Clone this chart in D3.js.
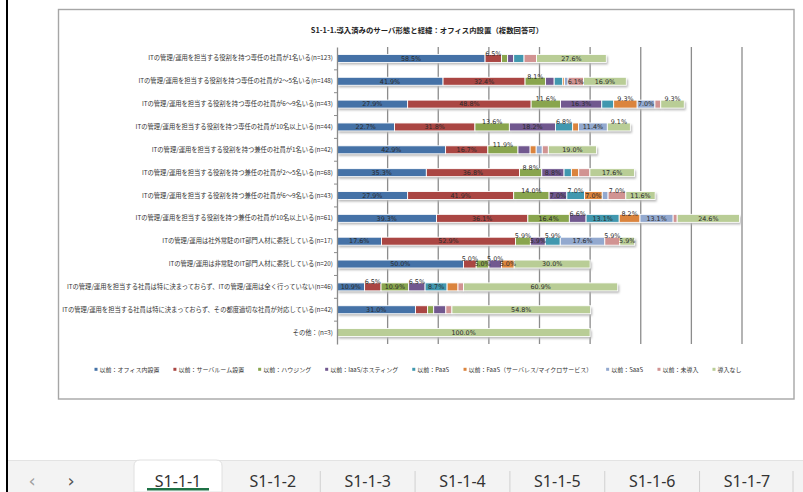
<!DOCTYPE html>
<html>
<head>
<meta charset="utf-8">
<script src="https://cdn.jsdelivr.net/npm/d3@7"></script>
<style>
  html, body { margin: 0; padding: 0; background: #fff; }
  svg { display: block; }
</style>
</head>
<body>
<svg id="sheet" width="803" height="492"></svg>
<script>
// ---- data ----
const chartTitle = "S1-1-1.導入済みのサーバ形態と経緯：オフィス内設置（複数回答可）";

const categories = [
  "ITの管理/運用を担当する役割を持つ専任の社員が1名いる(n=123)",
  "ITの管理/運用を担当する役割を持つ専任の社員が2～5名いる(n=148)",
  "ITの管理/運用を担当する役割を持つ専任の社員が6～9名いる(n=43)",
  "ITの管理/運用を担当する役割を持つ専任の社員が10名以上いる(n=44)",
  "ITの管理/運用を担当する役割を持つ兼任の社員が1名いる(n=42)",
  "ITの管理/運用を担当する役割を持つ兼任の社員が2～5名いる(n=68)",
  "ITの管理/運用を担当する役割を持つ兼任の社員が6～9名いる(n=43)",
  "ITの管理/運用を担当する役割を持つ兼任の社員が10名以上いる(n=61)",
  "ITの管理/運用は社外常駐のIT部門人材に委託している(n=17)",
  "ITの管理/運用は非常駐のIT部門人材に委託している(n=20)",
  "ITの管理/運用を担当する社員は特に決まっておらず、ITの管理/運用は全く行っていない(n=46)",
  "ITの管理/運用を担当する社員は特に決まっておらず、その都度適切な社員が対応している(n=42)",
  "その他：(n=3)"
];

const seriesNames = [
  "以前：オフィス内設置",
  "以前：サーバルーム設置",
  "以前：ハウジング",
  "以前：IaaS/ホスティング",
  "以前：PaaS",
  "以前：FaaS（サーバレス/マイクロサービス）",
  "以前：SaaS",
  "以前：未導入",
  "導入なし"
];

const officeValues     = [58.5, 41.9, 27.9, 22.7, 42.9, 35.3, 27.9, 39.3, 17.6, 50.0, 10.9, 31.0, 0];
const serverRoomValues = [6.5, 32.4, 48.8, 31.8, 16.7, 36.8, 41.9, 36.1, 52.9, 5.0, 6.5, 4.8, 0];
const housingValues    = [2.4, 8.1, 11.6, 13.6, 11.9, 8.8, 14.0, 16.4, 5.9, 5.0, 10.9, 2.4, 0];
const iaasValues       = [2.4, 3.4, 16.3, 18.2, 4.8, 8.8, 7.0, 6.6, 5.9, 5.0, 6.5, 4.8, 0];
const paasValues       = [4.1, 3.4, 4.7, 6.8, 0, 2.9, 7.0, 13.1, 5.9, 0, 8.7, 0, 0];
const faasValues       = [0, 0.7, 9.3, 2.3, 2.4, 2.9, 7.0, 8.2, 0, 5.0, 4.3, 0, 0];
const saasValues       = [0, 1.4, 7.0, 11.4, 2.4, 0, 2.3, 13.1, 17.6, 0, 0, 0, 0];
const notYetValues     = [4.9, 6.1, 2.3, 0, 2.4, 4.4, 7.0, 1.6, 5.9, 0, 2.2, 2.4, 0];
const noneValues       = [27.6, 16.9, 9.3, 9.1, 19.0, 17.6, 11.6, 24.6, 5.9, 30.0, 60.9, 54.8, 100.0];

const xTicks = [0, 20, 40, 60, 80, 100, 120, 140, 160];
const sheetTabs = ["S1-1-1", "S1-1-2", "S1-1-3", "S1-1-4", "S1-1-5", "S1-1-6", "S1-1-7"];

// ---- styling ----
const seriesValues = [officeValues, serverRoomValues, housingValues, iaasValues, paasValues,
                      faasValues, saasValues, notYetValues, noneValues];
const palette = ["#4572A7", "#AA4643", "#89A54E", "#71588F", "#4198AF",
                 "#DB843D", "#93A9CF", "#D19392", "#B9CD96"];
const jpFont = "'Noto Sans CJK JP', 'Noto Sans', sans-serif";

const svg = d3.select("#sheet");

// left edge of the worksheet pane
svg.append("rect").attr("x", 6).attr("y", 0).attr("width", 2).attr("height", 492).attr("fill", "#000");

// chart frame
svg.append("rect")
  .attr("x", 58.5).attr("y", 9.5).attr("width", 735.5).attr("height", 389.5)
  .attr("fill", "#fff").attr("stroke", "#a6a6a6").attr("stroke-width", 1.4);

svg.append("text")
  .attr("x", 427).attr("y", 32.5)
  .attr("text-anchor", "middle")
  .attr("font-family", jpFont).attr("font-size", 7.4).attr("font-weight", "bold")
  .attr("fill", "#222")
  .text(chartTitle);

// ---- scales ----
const x = d3.scaleLinear().domain([0, 160]).range([337, 742]);
const y = d3.scaleBand().domain(categories).range([47, 344]);
const barH = 8;

// vertical gridlines
svg.append("g").selectAll("line").data(xTicks.slice(1)).join("line")
  .attr("x1", d => x(d)).attr("x2", d => x(d))
  .attr("y1", 47).attr("y2", 344)
  .attr("stroke", "#8c8c8c").attr("stroke-width", 1.3);

// stacked layout
const rows = categories.map((c, i) => {
  let acc = 0;
  return seriesValues.map((vals, s) => {
    const v = vals[i];
    const seg = { cat: c, s, v, x0: acc, x1: acc + v };
    acc += v;
    return seg;
  }).filter(d => d.v > 0);
});
const segments = rows.flat();

const defs = svg.append("defs");
defs.append("filter").attr("id", "soft").attr("x", "-10%").attr("y", "-50%").attr("width", "120%").attr("height", "200%")
  .append("feGaussianBlur").attr("stdDeviation", 0.8);

const yMid = c => y(c) + y.bandwidth() / 2;

// drop shadows under each bar
svg.append("g").attr("filter", "url(#soft)").selectAll("rect").data(segments).join("rect")
  .attr("x", d => x(d.x0) + 1.5).attr("y", d => yMid(d.cat) - barH / 2 + 2)
  .attr("width", d => x(d.x1) - x(d.x0)).attr("height", barH)
  .attr("fill", "#b5b5b5");

// bar segments
svg.append("g").selectAll("rect").data(segments).join("rect")
  .attr("x", d => x(d.x0)).attr("y", d => yMid(d.cat) - barH / 2)
  .attr("width", d => x(d.x1) - x(d.x0)).attr("height", barH)
  .attr("fill", d => palette[d.s])
  .attr("stroke", "#fff").attr("stroke-width", 0.9);

// category axis
const yAxis = d3.axisLeft(y).tickSize(0).tickPadding(4);
const axisG = svg.append("g").attr("transform", "translate(337,0)").call(yAxis);
axisG.select(".domain").attr("stroke", "#8c8c8c").attr("stroke-width", 1.3);
axisG.selectAll("text")
  .attr("font-family", jpFont).attr("font-size", 6.3).attr("fill", "#333");
// small ticks between categories
svg.append("g").selectAll("line").data(categories.slice(1)).join("line")
  .attr("x1", 334).attr("x2", 337)
  .attr("y1", d => y(d)).attr("y2", d => y(d))
  .attr("stroke", "#8c8c8c").attr("stroke-width", 1);

// data labels: inline when there is room, otherwise narrow neighbours
// alternate between inline and lifted above the bar
const labelG = svg.append("g")
  .attr("font-family", "'DejaVu Sans', sans-serif").attr("font-size", 6.4).attr("fill", "#2b2b2b")
  .attr("text-anchor", "middle");
rows.forEach(row => {
  let prevAbove = true;
  row.forEach(d => {
    if (d.v < 5) return;
    const w = x(d.x1) - x(d.x0);
    const above = w < 36 ? !prevAbove : false;
    prevAbove = above;
    labelG.append("text")
      .attr("x", (x(d.x0) + x(d.x1)) / 2)
      .attr("y", yMid(d.cat) + (above ? -5 : 0))
      .attr("dy", "0.35em")
      .text(d.v.toFixed(1) + "%");
  });
});

// legend
const legendG = svg.append("g").attr("font-family", jpFont).attr("font-size", 6).attr("fill", "#333");
const items = legendG.selectAll("g").data(seriesNames).join("g");
items.append("rect").attr("width", 3).attr("height", 3).attr("y", -2.2).attr("fill", (d, i) => palette[i]);
items.append("text").attr("x", 5).attr("dy", "0.35em").text(d => d);
const widths = [];
items.each(function () { widths.push(this.getBBox().width); });
const gap = 14;
const total = d3.sum(widths) + gap * (widths.length - 1);
let cx = 418 - total / 2;
items.attr("transform", (d, i) => {
  const t = `translate(${cx},370)`;
  cx += widths[i] + gap;
  return t;
});

// ---- sheet tab bar ----
const tabY = 460;
svg.append("rect").attr("x", 8).attr("y", tabY).attr("width", 795).attr("height", 32).attr("fill", "#f3f3f3");
svg.append("line").attr("x1", 8).attr("x2", 803).attr("y1", tabY + 0.5).attr("y2", tabY + 0.5).attr("stroke", "#e3e3e3");
svg.append("path")
  .attr("d", "M134,492 L134,466 Q134,460 140,460 L216,460 Q222,460 222,466 L222,492 Z")
  .attr("fill", "#fff").attr("stroke", "#e0e0e0");
svg.append("text").attr("x", 32).attr("y", 487).attr("font-family", "'DejaVu Sans', sans-serif")
  .attr("font-size", 18).attr("fill", "#a0a0a0").attr("text-anchor", "middle").text("‹");
svg.append("text").attr("x", 71).attr("y", 487).attr("font-family", "'DejaVu Sans', sans-serif")
  .attr("font-size", 18).attr("fill", "#555").attr("text-anchor", "middle").text("›");

const tabX = d3.scalePoint().domain(sheetTabs).range([178, 747]);
const tabG = svg.append("g").attr("font-family", "'Noto Sans', sans-serif").attr("font-size", 16).attr("fill", "#333");
tabG.selectAll("text").data(sheetTabs).join("text")
  .attr("x", d => tabX(d)).attr("y", 487).attr("text-anchor", "middle").text(d => d);
tabG.selectAll("line").data(sheetTabs.slice(2)).join("line")
  .attr("x1", d => tabX(d) - tabX.step() / 2).attr("x2", d => tabX(d) - tabX.step() / 2)
  .attr("y1", 471).attr("y2", 492).attr("stroke", "#d0d0d0");
svg.append("line").attr("x1", 793).attr("x2", 793).attr("y1", 471).attr("y2", 492).attr("stroke", "#d0d0d0");
svg.append("rect").attr("x", 147).attr("y", 488).attr("width", 62).attr("height", 2.5).attr("fill", "#1e7145");
</script>
</body>
</html>
